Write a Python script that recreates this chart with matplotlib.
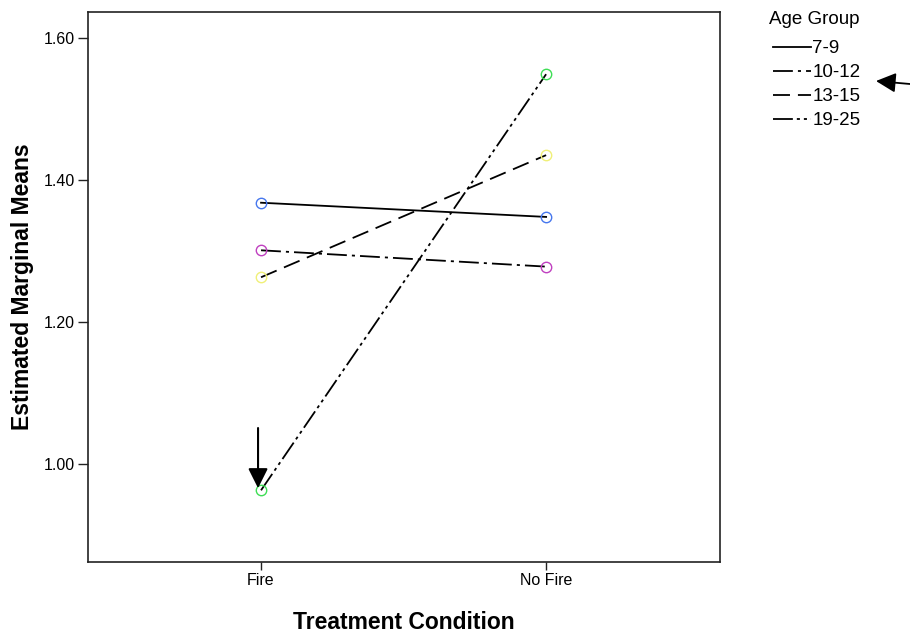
import matplotlib
matplotlib.use("Agg")
import matplotlib.pyplot as plt
from matplotlib.patches import FancyArrowPatch

plt.rcParams['font.family'] = ['Liberation Sans', 'DejaVu Sans']

conditions = ["Fire", "No Fire"]
age_groups = ["7-9", "10-12", "13-15", "19-25"]
means_7_9 = [1.368, 1.348]
means_10_12 = [1.301, 1.278]
means_13_15 = [1.263, 1.435]
means_19_25 = [0.963, 1.549]
yticks = [1.00, 1.20, 1.40, 1.60]

series = [means_7_9, means_10_12, means_13_15, means_19_25]
marker_colors = ["#4677ee", "#c040c0", "#f0f078", "#3ede55"]
dashes = [None, (11, 2.8, 1.7, 2.8), (9.4, 4.4), (11, 2.2, 1.7, 2.2, 1.7, 2.2)]

fig = plt.figure(figsize=(9.10, 6.35), dpi=100)
ax = fig.add_axes([88 / 910, 1 - 562 / 635, (720 - 88) / 910, (562 - 12) / 635])

x = [1, 2]
handles = []
for vals, col, ds, lab in zip(series, marker_colors, dashes, age_groups):
    line, = ax.plot(x, vals, color="black", lw=1.3, label=lab)
    if ds is not None:
        line.set_dashes(ds)
    ax.plot(x, vals, linestyle="none", marker="o", ms=7.5, mfc="none",
            mec=col, mew=1.0)
    handles.append(line)

ax.set_xlim(0.393, 2.61)
ax.set_ylim(0.862, 1.6366)
ax.set_xticks(x)
ax.set_xticklabels(conditions, fontsize=11.5)
ax.set_yticks(yticks)
ax.set_yticklabels([f"{v:.2f}" for v in yticks], fontsize=11.5)
ax.tick_params(direction="out", width=1, color="#222222")
ax.tick_params(axis="x", length=5.5, pad=2.5)
ax.tick_params(axis="y", length=7.5, pad=2)
for sp in ax.spines.values():
    sp.set_linewidth(1.2)
    sp.set_color("#222222")

ax.set_xlabel("Treatment Condition", fontsize=16.5, fontweight="bold")
ax.set_ylabel("Estimated Marginal Means", fontsize=16.5, fontweight="bold")
ax.xaxis.set_label_coords(0.5, -0.089)
ax.yaxis.set_label_coords(-0.0854, 0.5)

# Legend with its heading placed separately
fig.text(769 / 910, 1 - 19 / 635, "Age Group", fontsize=13.5,
         ha="left", va="center")
fig.legend(handles=handles, labels=age_groups,
           loc="upper left", bbox_to_anchor=(773 / 910, 1 - 40 / 635),
           frameon=False, fontsize=13.5,
           handlelength=2.0, handletextpad=0.1, labelspacing=0.37,
           borderpad=0, borderaxespad=0)

# Pointer arrows
ax.annotate("", xy=(0.9895, 0.966), xytext=(0.9895, 1.0507),
            arrowprops=dict(arrowstyle="-|>,head_length=0.6,head_width=0.3",
                            color="black", lw=1.5, mutation_scale=20,
                            shrinkA=0, shrinkB=0))
fig.patches.append(FancyArrowPatch(
    (910 / 910, 1 - 84 / 635), (876 / 910, 1 - 81 / 635),
    transform=fig.transFigure,
    arrowstyle="-|>,head_length=0.6,head_width=0.3", color="black", lw=1.3,
    mutation_scale=20, shrinkA=0, shrinkB=0))

fig.savefig("out.png", dpi=100)
